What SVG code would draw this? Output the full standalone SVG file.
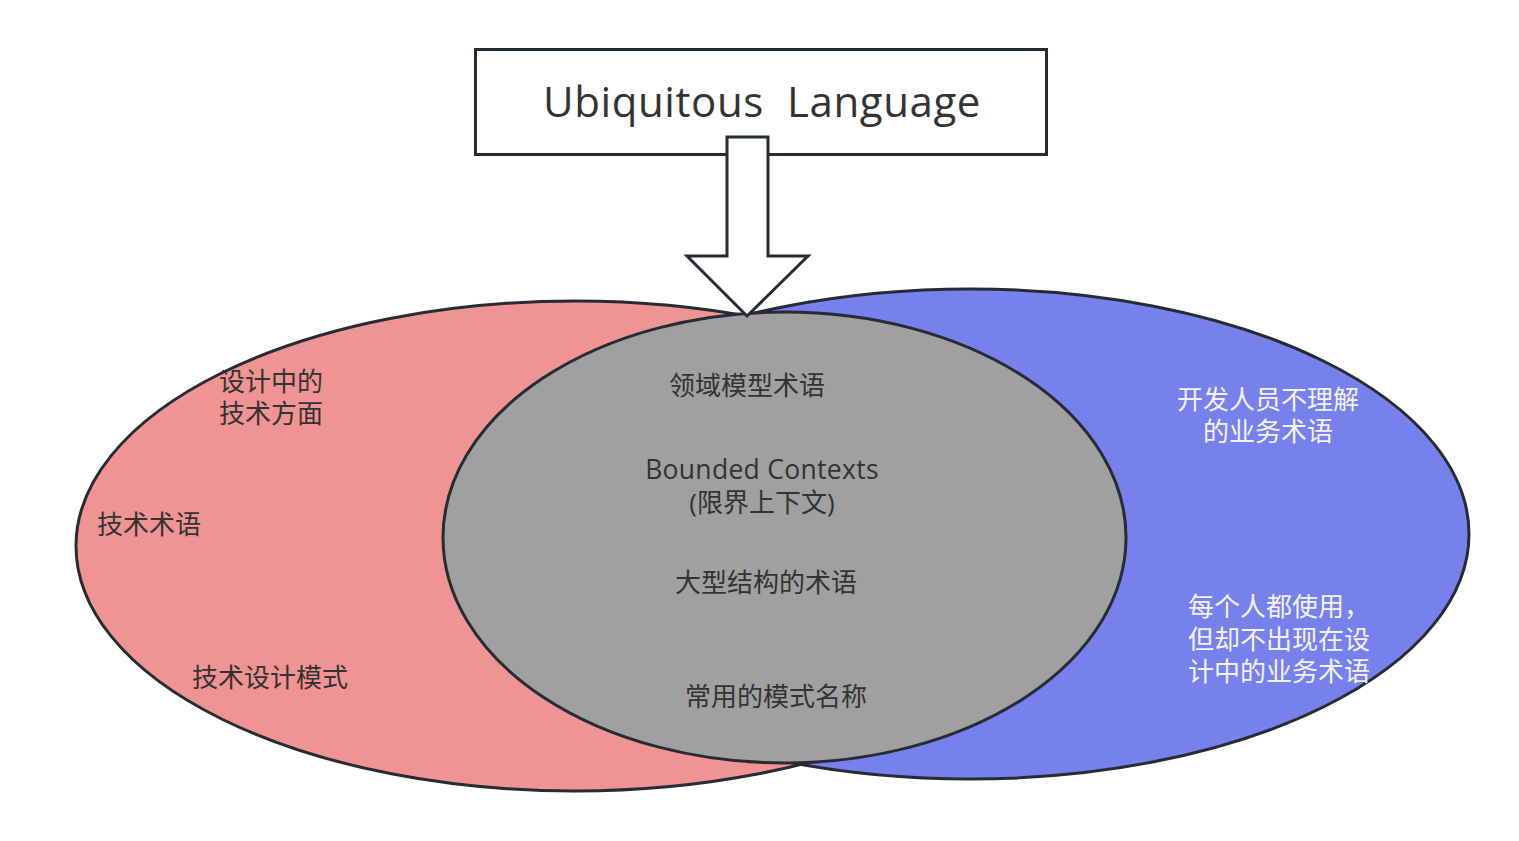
<svg xmlns="http://www.w3.org/2000/svg" width="1519" height="841" viewBox="0 0 1519 841">
<style>
.sh{stroke:#262c33;stroke-width:3}
.t{font-family:"Open Sans","Noto Sans CJK SC",sans-serif;font-size:26px;fill:#333333}
.w{font-family:"Open Sans","Noto Sans CJK SC",sans-serif;font-size:26px;fill:#f2f2f2}
.m{text-anchor:middle}
</style>
<rect width="1519" height="841" fill="#ffffff"/>
<g id="tech-set">
<ellipse class="sh" cx="575" cy="546" rx="499" ry="245" fill="#f09393"/>
</g>
<g id="business-set">
<ellipse class="sh" cx="970" cy="534" rx="499" ry="245" fill="#7781eb"/>
</g>
<g id="domain-model">
<ellipse class="sh" cx="784.5" cy="537.5" rx="341.5" ry="225.5" fill="#a0a0a0"/>
</g>
<g id="ubiquitous-language">
<rect class="sh" x="475.5" y="49.5" width="571" height="105" fill="#ffffff"/>
<text x="762" y="117" font-family="'Open Sans','Noto Sans',sans-serif" font-size="42" letter-spacing="0.6" fill="#333333" text-anchor="middle" xml:space="preserve">Ubiquitous  Language</text>
</g>
<g id="connectors">
<path class="sh" d="M727,137 H768 V256 H808 L747,316 L687,256 H727 Z" fill="#ffffff" stroke-linejoin="miter"/>
</g>
<g id="labels-left">
<text class="t" x="219" y="391">设计中的</text>
<text class="t" x="219" y="423">技术方面</text>
<text class="t" x="97" y="534">技术术语</text>
<text class="t" x="192" y="687">技术设计模式</text>
</g>
<g id="labels-center">
<text class="t m" x="747" y="395">领域模型术语</text>
<text class="t m" x="762" y="479" style="font-size:26.5px;letter-spacing:0.3px">Bounded Contexts</text>
<text class="t m" x="762" y="512">(限界上下文)</text>
<text class="t m" x="766" y="592">大型结构的术语</text>
<text class="t m" x="776" y="706">常用的模式名称</text>
</g>
<g id="labels-right">
<text class="w m" x="1268" y="409">开发人员不理解</text>
<text class="w m" x="1268" y="441">的业务术语</text>
<text class="w" x="1188" y="616">每个人都使用，</text>
<text class="w" x="1188" y="649">但却不出现在设</text>
<text class="w" x="1188" y="681">计中的业务术语</text>
</g>
</svg>
